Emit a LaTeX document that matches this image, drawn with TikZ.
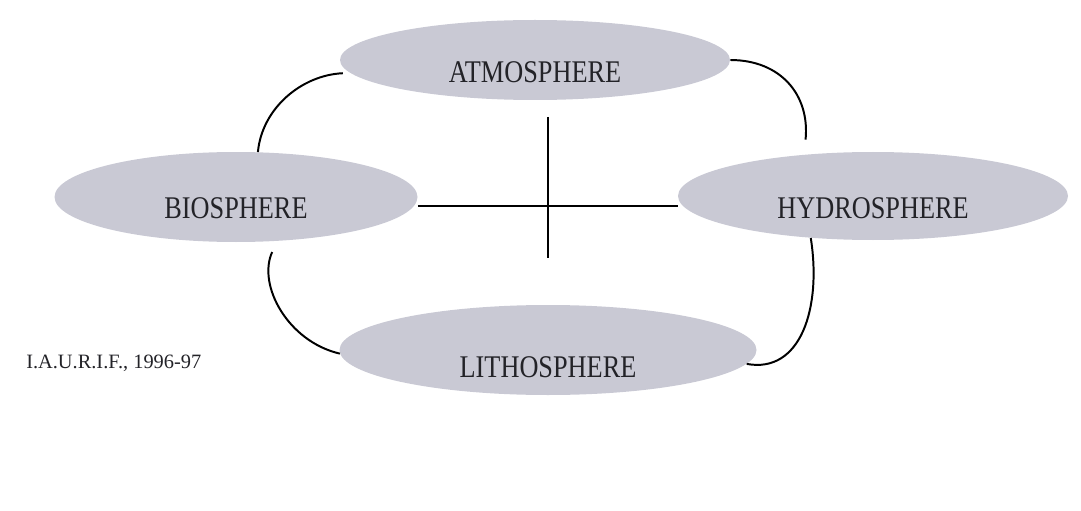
\documentclass[tikz,border=0pt]{standalone}
\usepackage{graphicx}
\usepackage{fontspec}
\setmainfont{Liberation Serif}
\usetikzlibrary{shapes.geometric}
\definecolor{spherefill}{RGB}{201,201,212}
\definecolor{spheretext}{RGB}{35,35,40}
\newcommand\tallcaps[1]{\scalebox{1}[1.2]{#1}}

\begin{document}
\begin{tikzpicture}[
  sphere/.style={ellipse, fill=spherefill, inner sep=0pt},
  spherelabel/.style={text=spheretext, inner sep=0pt, font=\fontsize{18.7}{20}\selectfont, yshift=-0.3cm},
  link/.style={draw, black, line width=1.4pt},
]
\useasboundingbox (0,0) rectangle (27.025,12.75);
\node[sphere, minimum width=9.75cm, minimum height=2cm,
  label={[spherelabel]center:\tallcaps{ATMOSPHERE}}] (atm) at (13.375,11.25) {};
\node[sphere, minimum width=9.075cm, minimum height=2.25cm,
  label={[spherelabel, yshift=0.025cm]center:\tallcaps{BIOSPHERE}}] (bio) at (5.9,7.825) {};
\node[sphere, minimum width=9.75cm, minimum height=2.2cm,
  label={[spherelabel]center:\tallcaps{HYDROSPHERE}}] (hyd) at (21.825,7.85) {};
\node[sphere, minimum width=10.425cm, minimum height=2.25cm,
  label={[spherelabel, yshift=-0.125cm]center:\tallcaps{LITHOSPHERE}}] (litho) at (13.7,4.0) {};
\node[anchor=west, inner sep=0pt, text=spheretext, font=\fontsize{14.5}{16}\selectfont] (credit) at (0.65,3.66) {I.A.U.R.I.F., 1996-97};

\coordinate (cross) at (13.7,7.6);
\coordinate (crosstop) at (13.7,9.825);
\coordinate (crossbot) at (13.7,6.3);
\draw[link] (cross -| bio.east) -- (cross -| hyd.west);
\draw[link] (crosstop) -- (crossbot);

\draw[link, shorten >=0.18cm] (bio.64) .. controls +(0.1,1.1) and +(-1.2,-0.05) .. (atm.184);
\draw[link, shorten >=0.375cm] (atm.east) .. controls +(1.25,0) and +(0.15,1.5) .. (hyd.149);
\draw[link, shorten <=0.3cm] (bio.313) .. controls +(-0.5,-1.1) and +(-1.3,0.3) .. (litho.181);
\draw[link] (hyd.214) .. controls +(0.275,-1.75) and +(1.35,-0.25) .. (litho.-4);
\end{tikzpicture}
\end{document}
